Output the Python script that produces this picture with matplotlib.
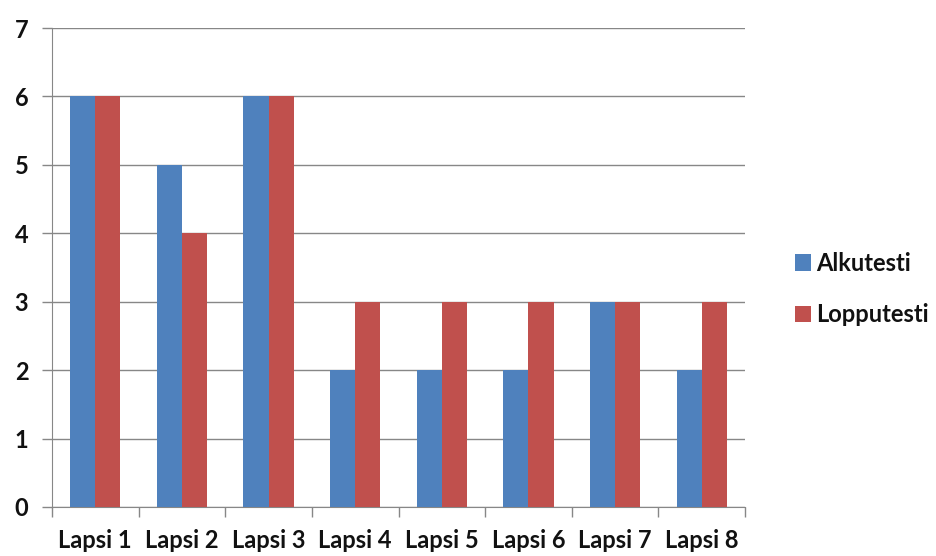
import matplotlib
matplotlib.use('Agg')
import matplotlib.pyplot as plt
import numpy as np

# tulokset lapsittain
lapset = ['Lapsi 1', 'Lapsi 2', 'Lapsi 3', 'Lapsi 4', 'Lapsi 5', 'Lapsi 6', 'Lapsi 7', 'Lapsi 8']
alkutesti = [6, 5, 6, 2, 2, 2, 3, 2]
lopputesti = [6, 4, 6, 3, 3, 3, 3, 3]

plt.rcParams['font.family'] = ['Lato', 'DejaVu Sans']
plt.rcParams['font.weight'] = 'bold'

fig = plt.figure(figsize=(9.36, 5.56), dpi=100)
ax = fig.add_axes([52/936, 49/556, 693/936, 479/556])

x = np.arange(len(lapset))
w = 0.29
ax.bar(x - w/2, alkutesti, w, color='#4F81BD', label='Alkutesti', zorder=3)
ax.bar(x + w/2, lopputesti, w, color='#C0504D', label='Lopputesti', zorder=3)

ax.set_xlim(-0.5, len(lapset) - 0.5)
ax.set_ylim(0, 7)
ax.set_yticks(range(0, 8))
ax.yaxis.grid(True, color='#878787', linewidth=1, zorder=0)

# x-akselin jakoviivat ryhmien rajoille
ax.set_xticks(np.arange(-0.5, len(lapset)), minor=False)
ax.set_xticklabels([])
ax.set_xticks(x, minor=True)
ax.set_xticklabels(lapset, minor=True, fontsize=17, color='#111111')
ax.tick_params(axis='x', which='minor', length=0, pad=16)
ax.tick_params(axis='x', which='major', length=7, color='#878787', width=1)
ax.tick_params(axis='y', length=7, color='#878787', width=1, labelsize=17,
               labelcolor='#111111', pad=10)

for s in ['top', 'right']:
    ax.spines[s].set_visible(False)
for s in ['left', 'bottom']:
    ax.spines[s].set_color('#878787')

ax.legend(loc='center left', bbox_to_anchor=(1.0, 0.455), frameon=False,
          fontsize=17, handlelength=0.7, handleheight=0.7, handletextpad=0.2,
          labelspacing=1.2, borderaxespad=1.7, labelcolor='#111111')

fig.savefig('out.png', dpi=100)
